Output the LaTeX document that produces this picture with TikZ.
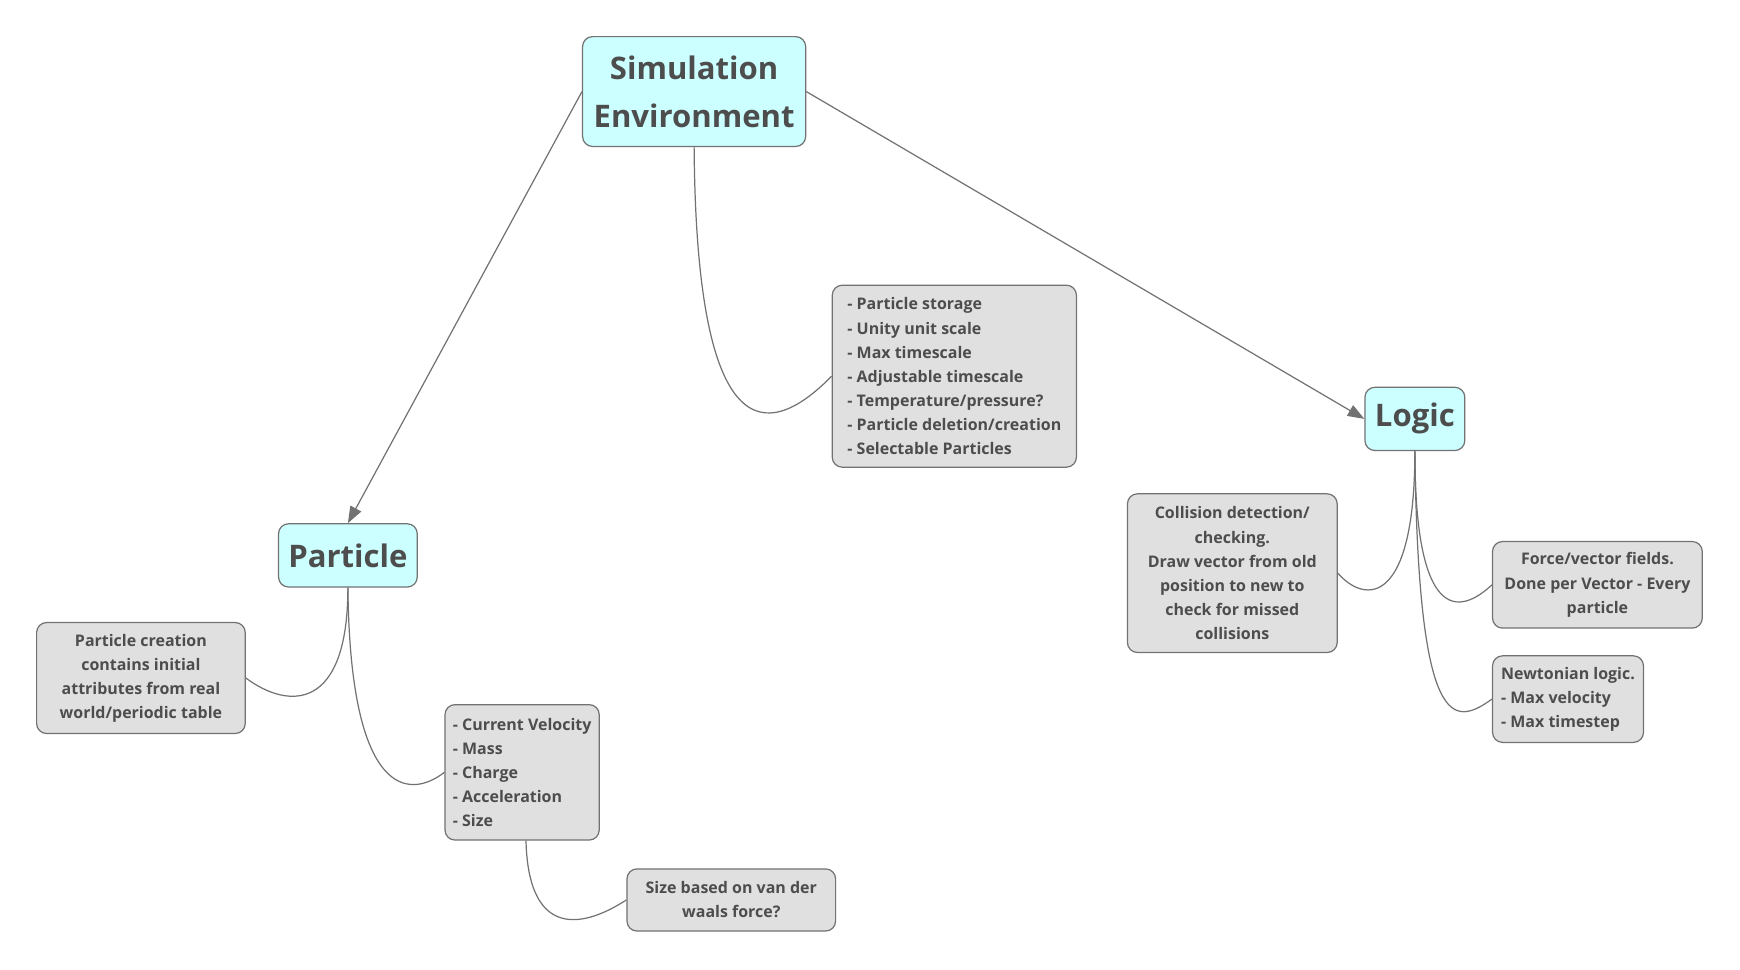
\documentclass[tikz,border=0pt]{standalone}
\usepackage{fontspec}
\setmainfont{Open Sans}
\usetikzlibrary{arrows.meta}
\definecolor{inkgray}{HTML}{4D4D4D}
\definecolor{linegray}{HTML}{727272}
\definecolor{topicfill}{HTML}{CCFFFF}
\definecolor{notefill}{HTML}{E0E0E0}
\tikzset{
	topic/.style={
			draw=linegray, fill=topicfill, rounded corners=9pt, line width=1.1pt,
			text=inkgray, font=\fontsize{28}{43}\selectfont\bfseries,
			align=center, inner sep=0pt
		},
	note/.style={
			draw=linegray, fill=notefill, rounded corners=9pt, line width=1.1pt,
			text=inkgray, font=\fontsize{14.4}{21.7}\selectfont\bfseries,
			inner sep=0pt
		},
	branch/.style={draw=linegray, line width=1.1pt},
	link/.style={branch, -{Triangle[length=15pt,width=11pt]}}
}

\begin{document}
\begin{tikzpicture}[x=1pt, y=-1pt]

			\useasboundingbox (0,0) rectangle (1568,874);

			% Main topics
			\node[topic, minimum width=201pt, minimum height=99pt] (env) at (625.5,82.5) {Simulation\\Environment};
			\node[topic, minimum width=125pt, minimum height=57pt] (particle) at (313.5,500.5) {Particle};
			\node[topic, minimum width=90pt, minimum height=57pt] (logic) at (1275,377.5) {Logic};

			% Notes
			\node[note, align=left, minimum width=220pt, minimum height=164pt] (envnotes) at (860,339)
			{- Particle storage\\- Unity unit scale\\- Max timescale\\- Adjustable timescale\\- Temperature/pressure?\\- Particle deletion/creation\\- Selectable Particles};
			\node[note, align=center, minimum width=189pt, minimum height=143pt] (collision) at (1110.5,516.5)
			{Collision detection/\\checking.\\Draw vector from old\\position to new to\\check for missed\\collisions};
			\node[note, align=center, minimum width=189pt, minimum height=78pt] (force) at (1439.5,527)
			{Force/vector fields.\\Done per Vector - Every\\particle};
			\node[note, align=left, minimum width=136pt, minimum height=78pt] (newton) at (1413,630)
			{Newtonian logic.\\- Max velocity\\- Max timestep};
			\node[note, align=center, minimum width=188pt, minimum height=100pt] (creation) at (127,611)
			{Particle creation\\contains initial\\attributes from real\\world/periodic table};
			\node[note, align=left, minimum width=139pt, minimum height=122pt] (attrs) at (470.5,696)
			{- Current Velocity\\- Mass\\- Charge\\- Acceleration\\- Size};
			\node[note, align=center, minimum width=188pt, minimum height=56pt] (size) at (659,811)
			{Size based on van der\\waals force?};

			% Arrows between topics
			\draw[link] (env.west) -- (particle.north);
			\draw[link] (env.east) -- (logic.west);

			% Curved branches to notes
			\draw[branch] (env.south) .. controls +(2,268) and +(-60,61) .. (envnotes.west);
			\draw[branch] (logic.south) .. controls +(0,139) and +(25,28.5) .. (collision.east);
			\draw[branch] (logic.south) .. controls +(0,154) and +(-30,28) .. (force.west);
			\draw[branch] (logic.south) .. controls +(3,254) and +(-35,25) .. (newton.west);
			\draw[branch] (particle.south) .. controls +(0,111) and +(39,29) .. (creation.east);
			\draw[branch] (particle.south) .. controls +(2,191) and +(-31,24) .. (attrs.west);
			\draw[branch] ([xshift=3.5pt]attrs.south) .. controls +(2,83) and +(-45,29) .. (size.west);

		\end{tikzpicture}
\end{document}
